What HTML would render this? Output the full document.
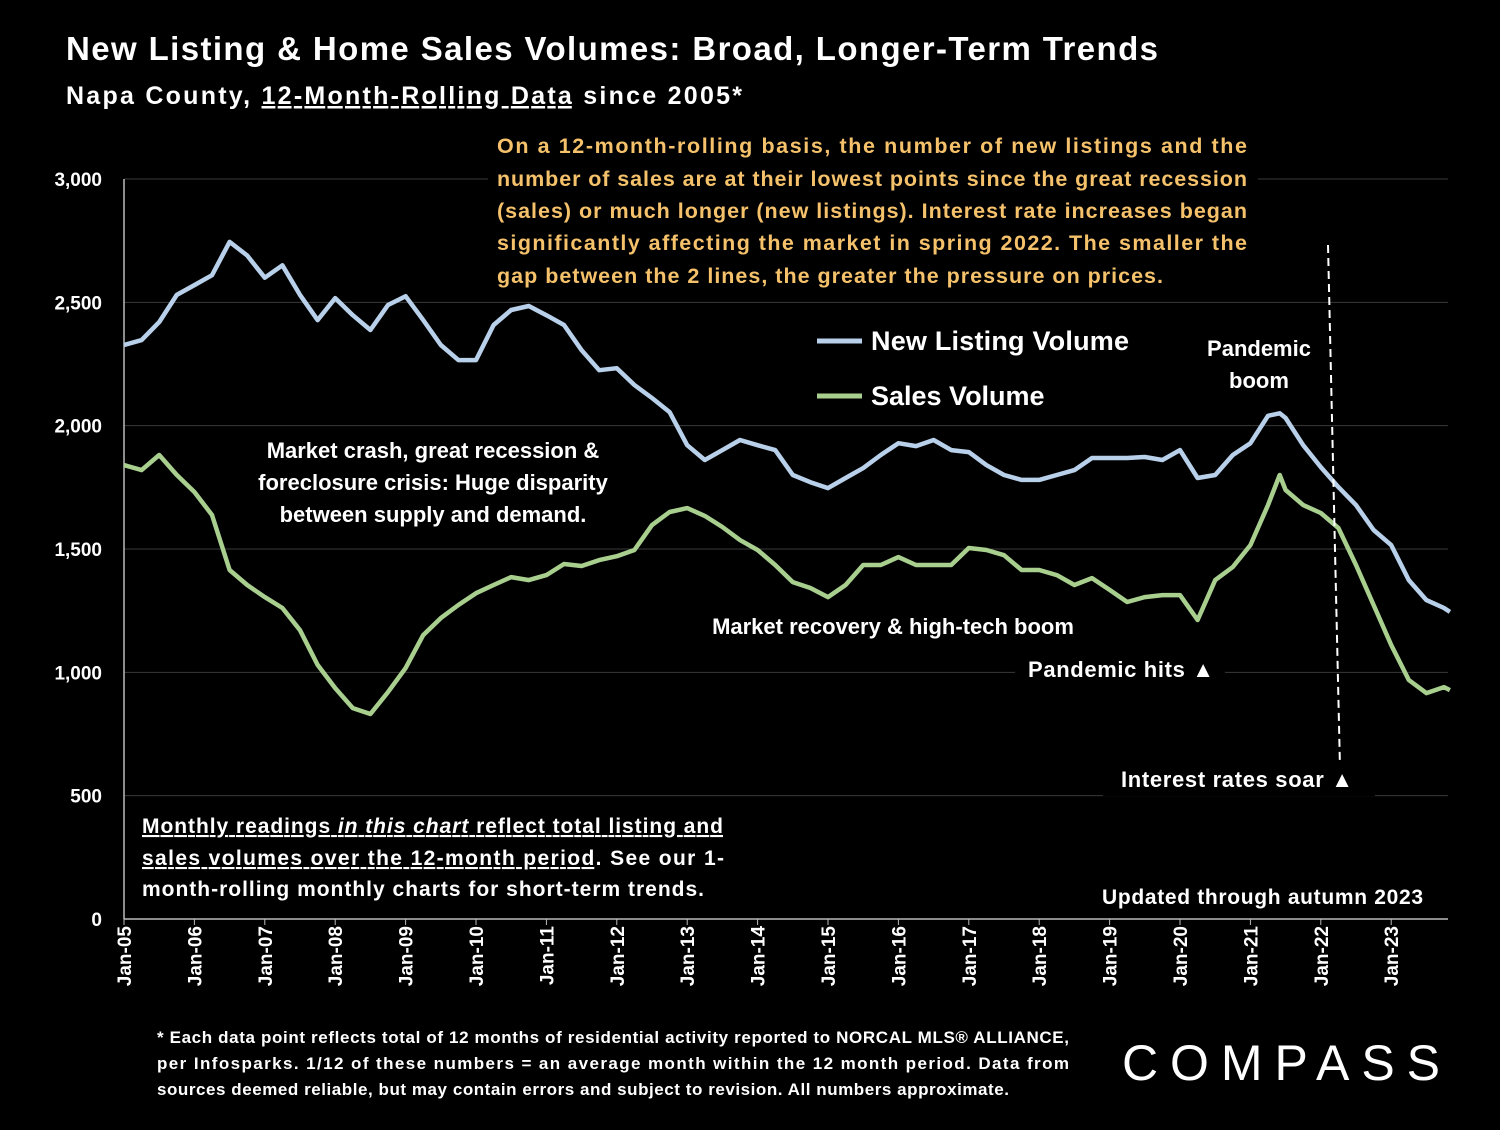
<!DOCTYPE html>
<html><head><meta charset="utf-8">
<style>
html,body{margin:0;padding:0;background:#000;}
body{width:1500px;height:1125px;overflow:hidden;font-family:"Liberation Sans",sans-serif;}
svg text{font-family:"Liberation Sans",sans-serif;}
</style></head>
<body>
<svg id="chart" width="1500" height="1125" viewBox="0 0 1500 1125" xmlns="http://www.w3.org/2000/svg">
<rect width="1500" height="1125" fill="#000"/>
<text x="66" y="60" fill="#fff" font-size="33" font-weight="bold" textLength="1092">New Listing &amp; Home Sales Volumes: Broad, Longer-Term Trends</text>
<text x="66" y="104" fill="#fff" font-size="25" font-weight="bold" textLength="676">Napa County, <tspan text-decoration="underline">12-Month-Rolling Data</tspan> since 2005*</text>
<g id="grid"></g>
<g id="axes"></g>
<g id="series"></g>
<g fill="#fff" font-weight="bold" font-size="22">
<rect x="488" y="128" width="770" height="165" fill="#000"/>
<g fill="#f5c26b" font-size="21.5">
<text x="497" y="153" textLength="750">On a 12-month-rolling basis, the number of new listings and the</text>
<text x="497" y="186" textLength="750">number of sales are at their lowest points since the great recession</text>
<text x="497" y="218" textLength="750">(sales) or much longer (new listings). Interest rate increases began</text>
<text x="497" y="250" textLength="750">significantly affecting the market in spring 2022. The smaller the</text>
<text x="497" y="283" textLength="666">gap between the 2 lines, the greater the pressure on prices.</text>
</g>
<rect x="240" y="428" width="385" height="102" fill="#000"/>
<text x="433" y="458" text-anchor="middle">Market crash,  great recession &amp;</text>
<text x="433" y="490" text-anchor="middle">foreclosure crisis: Huge disparity</text>
<text x="433" y="522" text-anchor="middle">between supply and demand.</text>
<rect x="690" y="610" width="405" height="32" fill="#000"/>
<text x="893" y="634" text-anchor="middle">Market recovery &amp; high-tech boom</text>
<rect x="1015" y="652" width="210" height="32" fill="#000"/>
<text x="1028" y="677" textLength="186">Pandemic hits ▲</text>
<rect x="1195" y="330" width="125" height="65" fill="#000"/>
<text x="1259" y="356" text-anchor="middle">Pandemic</text>
<text x="1259" y="388" text-anchor="middle">boom</text>
<line x1="1328" y1="245" x2="1340" y2="768" stroke="#fff" stroke-width="2" stroke-dasharray="8,5"/>
<rect x="1103" y="762" width="272" height="34" fill="#000"/>
<text x="1121" y="787" textLength="232">Interest rates soar ▲</text>
<rect x="132" y="810" width="600" height="96" fill="#000"/>
<text x="142" y="833" font-size="21" text-decoration="underline" textLength="581">Monthly readings <tspan font-style="italic">in this chart</tspan> reflect total listing and</text>
<text x="142" y="865" font-size="21" textLength="582"><tspan text-decoration="underline">sales volumes over the 12-month period</tspan>. See our 1-</text>
<text x="142" y="896" font-size="21" textLength="562">month-rolling monthly charts for short-term trends.</text>
<text x="1102" y="904" font-size="21" textLength="321">Updated through autumn 2023</text>
</g>
<g font-weight="bold" font-size="27" fill="#fff">
<line x1="817" y1="341" x2="862" y2="341" stroke="#b8d0ea" stroke-width="5"/>
<text x="871" y="350" textLength="258">New Listing Volume</text>
<line x1="817" y1="396" x2="862" y2="396" stroke="#a8cf8e" stroke-width="5"/>
<text x="871" y="405">Sales Volume</text>
</g>
<g fill="#fff" font-weight="bold" font-size="17">
<text x="157" y="1043" textLength="912">* Each data point reflects total of 12 months of residential activity reported to NORCAL MLS® ALLIANCE,</text>
<text x="157" y="1069" textLength="912">per Infosparks. 1/12 of these numbers = an average month within the 12 month period. Data from</text>
<text x="157" y="1095" textLength="852">sources deemed reliable, but may contain errors and subject to revision. All numbers approximate.</text>
</g>
<text x="1122" y="1080" fill="#fff" font-size="50" textLength="318">COMPASS</text>
</svg>
<script>
const yTicks=[0,500,1000,1500,2000,2500,3000];
const yTickLabels=["0","500","1,000","1,500","2,000","2,500","3,000"];
const xTickYears=[5,6,7,8,9,10,11,12,13,14,15,16,17,18,19,20,21,22,23];
const months=["2005-01","2005-04","2005-07","2005-10","2006-01","2006-04","2006-07","2006-10","2007-01","2007-04","2007-07","2007-10","2008-01","2008-04","2008-07","2008-10","2009-01","2009-04","2009-07","2009-10","2010-01","2010-04","2010-07","2010-10","2011-01","2011-04","2011-07","2011-10","2012-01","2012-04","2012-07","2012-10","2013-01","2013-04","2013-07","2013-10","2014-01","2014-04","2014-07","2014-10","2015-01","2015-04","2015-07","2015-10","2016-01","2016-04","2016-07","2016-10","2017-01","2017-04","2017-07","2017-10","2018-01","2018-04","2018-07","2018-10","2019-01","2019-04","2019-07","2019-10","2020-01","2020-04","2020-07","2020-10","2021-01","2021-04","2021-06","2021-07","2021-10","2022-01","2022-04","2022-07","2022-10","2023-01","2023-04","2023-07","2023-10","2023-11"];
const newListings=[2327,2347,2420,2530,2570,2610,2745,2690,2600,2650,2530,2428,2517,2448,2388,2489,2525,2428,2327,2266,2266,2408,2469,2485,2448,2408,2306,2225,2233,2165,2112,2055,1921,1861,1901,1942,1921,1901,1800,1771,1747,1788,1828,1881,1929,1917,1942,1901,1893,1840,1800,1780,1780,1800,1820,1869,1869,1869,1873,1861,1901,1788,1800,1881,1929,2040,2050,2031,1921,1832,1751,1678,1577,1516,1374,1293,1261,1245];
const sales=[1840,1820,1881,1800,1731,1638,1415,1354,1305,1261,1171,1030,936,855,831,920,1017,1151,1220,1273,1321,1354,1386,1374,1394,1439,1431,1455,1471,1496,1597,1650,1666,1634,1589,1536,1496,1435,1366,1342,1305,1354,1435,1435,1467,1435,1435,1435,1504,1496,1475,1415,1415,1394,1354,1382,1334,1285,1305,1313,1313,1212,1374,1427,1516,1678,1800,1739,1678,1646,1585,1435,1273,1111,969,916,940,928];
const NS="http://www.w3.org/2000/svg";
const X0=124,PXM=70.4/12,Y0=919,PXV=740/3000;
function xScale(m){const [y,mo]=m.split("-").map(Number);return X0+((y-2005)*12+(mo-1))*PXM;}
function yScale(v){return Y0-v*PXV;}
function mk(tag,attrs,parent){const e=document.createElementNS(NS,tag);for(const k in attrs)e.setAttribute(k,attrs[k]);parent.appendChild(e);return e;}
const grid=document.getElementById("grid"),axes=document.getElementById("axes"),ser=document.getElementById("series");
yTicks.forEach((t,i)=>{
  if(t>0){const l=mk("line",{x1:X0,x2:1448,y1:yScale(t),y2:yScale(t),stroke:"#3a3a3a","stroke-width":1},grid);
  
  }
  const tx=mk("text",{x:102,y:yScale(t)+7,fill:"#fff","font-size":19,"font-weight":"bold","text-anchor":"end"},axes);
  tx.textContent=yTickLabels[i];
  
  
});
const xa=mk("line",{x1:X0,x2:1448,y1:Y0,y2:Y0,stroke:"#bbb","stroke-width":1.5},axes);


const ya=mk("line",{x1:X0,x2:X0,y1:179,y2:Y0,stroke:"#bbb","stroke-width":1.5},axes);


xTickYears.forEach(yr=>{
  const x=xScale((2000+yr)+"-01");
  const tk=mk("line",{x1:x,x2:x,y1:Y0,y2:Y0+6,stroke:"#bbb"},axes);
  
  
  const tx=mk("text",{x:0,y:0,fill:"#fff","font-size":19,"font-weight":"bold","text-anchor":"end",transform:`translate(${x+7},${Y0+7}) rotate(-90)`},axes);
  tx.textContent="Jan-"+String(yr).padStart(2,"0");
  
  
});
function line(vals,color,name){
  const d=vals.map((v,i)=>(i?"L":"M")+xScale(months[i]).toFixed(1)+","+yScale(v).toFixed(1)).join("");
  const p=mk("path",{d:d,fill:"none",stroke:color,"stroke-width":4.5,"stroke-linejoin":"round"},ser);
  
  
}
line(newListings,"#b8d0ea","new-listing-line");
line(sales,"#a8cf8e","sales-line");
</script>
</body></html>
